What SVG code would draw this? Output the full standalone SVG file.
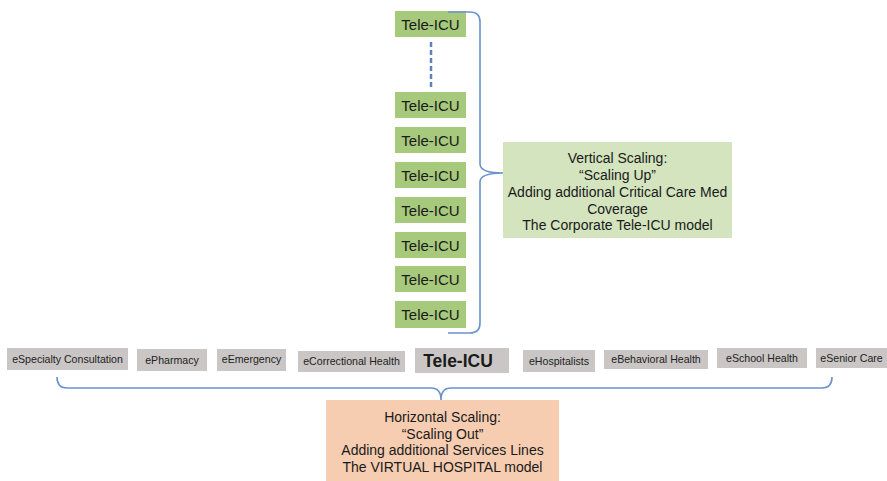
<svg xmlns="http://www.w3.org/2000/svg" width="887" height="481" viewBox="0 0 887 481">
  <style>
    .icu rect { fill: #a6c97c; }
    .icu text { font-family: "Liberation Sans", Arial, sans-serif; font-size: 15px; fill: #1a1a1a; text-anchor: middle; }
    .svc rect { fill: #c9c6c5; }
    .svc text { font-family: "Liberation Sans", Arial, sans-serif; font-size: 10.6px; fill: #222; text-anchor: middle; }
    .note text { font-family: "Liberation Sans", Arial, sans-serif; font-size: 14px; fill: #1a1a1a; text-anchor: middle; }
    .brace { fill: none; stroke: #6a93cb; stroke-width: 1.6; }
    .dash { fill: none; stroke: #5b82c0; stroke-width: 2.5; stroke-dasharray: 5 3; }
  </style>
  <rect width="887" height="481" fill="#ffffff"/>

  <!-- vertical stack of Tele-ICU units -->
  <g id="icu-top" class="icu"><rect x="395" y="11" width="71" height="26"/><text x="430.5" y="29.5">Tele-ICU</text></g>
  <g id="icu-1" class="icu"><rect x="395" y="92" width="71" height="26"/><text x="430.5" y="110.5">Tele-ICU</text></g>
  <g id="icu-2" class="icu"><rect x="395" y="127" width="71" height="26"/><text x="430.5" y="145.5">Tele-ICU</text></g>
  <g id="icu-3" class="icu"><rect x="395" y="162" width="71" height="26"/><text x="430.5" y="180.5">Tele-ICU</text></g>
  <g id="icu-4" class="icu"><rect x="395" y="197" width="71" height="26"/><text x="430.5" y="215.5">Tele-ICU</text></g>
  <g id="icu-5" class="icu"><rect x="395" y="232" width="71" height="26"/><text x="430.5" y="250.5">Tele-ICU</text></g>
  <g id="icu-6" class="icu"><rect x="395" y="266" width="71" height="26"/><text x="430.5" y="284.5">Tele-ICU</text></g>
  <g id="icu-7" class="icu"><rect x="395" y="301" width="71" height="27"/><text x="430.5" y="320">Tele-ICU</text></g>

  <!-- vertical scaling note -->
  <g id="vertical-note" class="note">
    <rect x="503" y="142" width="229" height="96" fill="#d3e4be"/>
    <text x="617.5" y="163">Vertical Scaling:</text>
    <text x="617.5" y="179.5">“Scaling Up”</text>
    <text x="617.5" y="197">Adding additional Critical Care Med</text>
    <text x="617.5" y="213.5">Coverage</text>
    <text x="617.5" y="230">The Corporate Tele-ICU model</text>
  </g>

  <!-- row of service lines -->
  <g id="svc-specialty" class="svc"><rect x="7" y="348" width="121" height="22"/><text x="67.5" y="362.5">eSpecialty Consultation</text></g>
  <g id="svc-pharmacy" class="svc"><rect x="137" y="349" width="70" height="22"/><text x="172" y="363.5">ePharmacy</text></g>
  <g id="svc-emergency" class="svc"><rect x="217" y="349" width="69" height="22"/><text x="251.5" y="363">eEmergency</text></g>
  <g id="svc-correctional" class="svc"><rect x="298" y="351" width="107" height="21"/><text x="351.5" y="365">eCorrectional Health</text></g>
  <g id="svc-teleicu" class="svc"><rect x="415" y="348" width="94" height="25"/><text x="458" y="366.5" style="font-size:17.5px;font-weight:bold;fill:#1a1a1a">Tele-ICU</text></g>
  <g id="svc-hospitalists" class="svc"><rect x="523" y="350" width="72" height="22"/><text x="559" y="364.5">eHospitalists</text></g>
  <g id="svc-behavioral" class="svc"><rect x="604" y="350" width="104" height="19"/><text x="656" y="363">eBehavioral Health</text></g>
  <g id="svc-school" class="svc"><rect x="717" y="348" width="90" height="20"/><text x="762" y="361.5">eSchool Health</text></g>
  <g id="svc-senior" class="svc"><rect x="816" y="348" width="71" height="20"/><text x="851.5" y="361.5">eSenior Care</text></g>

  <!-- horizontal scaling note -->
  <g id="horizontal-note" class="note">
    <rect x="326" y="400" width="233" height="81" fill="#f6cdb1"/>
    <text x="442.5" y="422">Horizontal Scaling:</text>
    <text x="442.5" y="438.5">“Scaling Out”</text>
    <text x="442.5" y="455">Adding additional Services Lines</text>
    <text x="442.5" y="471.5">The VIRTUAL HOSPITAL model</text>
  </g>

  <!-- braces and the dashed continuation -->
  <g id="connectors">
    <path class="dash" d="M431,42 L431,89"/>
    <path class="brace" d="M448,12 L470,12 Q480,12 480,22 L480,164 Q480,173 503,173 Q480,173 480,182 L480,323 Q480,333 470,333 L448,333"/>
    <path class="brace" d="M57,377 Q57,388 67,388 L431,388 Q441,388 441,400 Q441,388 451,388 L822,388 Q832,388 832,377"/>
  </g>
</svg>
